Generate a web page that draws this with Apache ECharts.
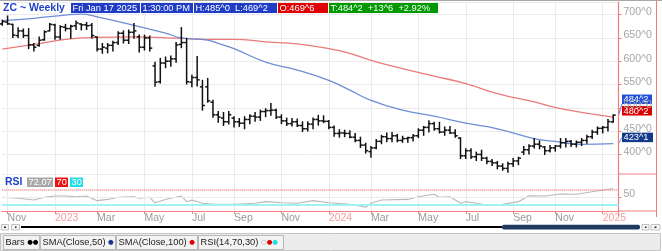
<!DOCTYPE html>
<html>
<head>
<meta charset="utf-8">
<title>ZC Weekly</title>
<script src="https://cdn.jsdelivr.net/npm/echarts@6/dist/echarts.min.js"></script>
<style>
  html, body { margin: 0; padding: 0; background: #fff; }
  #chart { width: 662px; height: 251px; }
</style>
</head>
<body>
<div id="chart"></div>
<script>
// weekly bars dated on Fridays, first bar 2022-10-28
const firstWeek = Date.UTC(2022, 9, 28)
const weekSlots = 118 // 117 bars + the empty slot at the right edge

const opens = [
  680, 684, 679, 655, 665, 655, 635, 634, 646, 665,
  678, 652, 673, 670, 676, 680, 678, 677, 652, 626,
  628, 634, 640, 660, 645, 662, 652, 630, 650, 590,
  556, 596, 600, 605, 636, 640, 555, 565, 545, 545,
  512, 485, 478, 470, 478, 470, 467, 475, 482, 480,
  492, 494, 495, 480, 472, 466, 470, 462, 455, 465,
  475, 472, 471, 458, 445, 446, 445, 437, 430, 420,
  406, 414, 428, 438, 434, 440, 430, 434, 436, 440,
  452, 458, 466, 455, 448, 452, 446, 435, 397, 408,
  395, 400, 392, 385, 382, 375, 370, 380, 386, 405,
  410, 418, 422, 416, 408, 414, 418, 425, 428, 422,
  426, 430, 438, 448, 456, 458, 469.75,
]
const highs = [
  688, 697, 679, 672, 669, 670, 638, 652, 665, 681,
  679, 676, 679, 677, 686, 680, 683, 681, 652, 638,
  638, 643, 663, 665, 667, 681, 656, 656, 654, 598,
  606, 609, 611, 640, 672, 649, 570, 610, 559, 563,
  516, 492, 490, 492, 481, 477, 481, 485, 490, 495,
  498, 509, 497, 485, 478, 477, 476, 470, 470, 478,
  484, 483, 473, 461, 453, 452, 451, 445, 437, 424,
  417, 432, 441, 446, 447, 443, 439, 437, 443, 455,
  460, 472, 469, 469, 459, 460, 453, 436, 412, 412,
  405, 409, 394, 389, 385, 380, 383, 391, 394, 417,
  421, 434, 429, 417, 419, 419, 434, 434, 430, 429,
  434, 441, 452, 459, 460, 475, 485,
]
const lows = [
  677, 679, 651, 651, 651, 627, 622, 632, 645, 665,
  647, 647, 665, 649, 668, 667, 668, 650, 622, 617,
  618, 622, 636, 639, 638, 649, 620, 624, 622, 546,
  553, 586, 589, 598, 629, 551, 545, 547, 495, 512,
  480, 469, 462, 465, 459, 460, 455, 466, 471, 473,
  481, 484, 477, 466, 462, 461, 460, 449, 450, 455,
  463, 468, 455, 439, 437, 438, 436, 427, 415, 403,
  394, 412, 423, 427, 427, 427, 426, 426, 429, 436,
  441, 448, 452, 446, 441, 445, 437, 391, 391, 391,
  387, 387, 380, 376, 369, 366, 362, 374, 378, 400,
  401, 414, 412, 400, 405, 407, 414, 416, 417, 416,
  419, 424, 434, 443, 446, 450, 469.25,
]
const closes = [
  685, 680, 656, 665, 655, 635, 630, 645, 663, 679,
  652, 674, 670, 675, 682, 678, 676, 655, 626, 630,
  634, 640, 660, 645, 662, 665, 630, 650, 628, 555,
  596, 600, 605, 635, 640, 556, 565, 560, 505, 515,
  485, 480, 470, 485, 470, 467, 475, 482, 480, 492,
  494, 495, 480, 472, 466, 470, 462, 455, 465, 475,
  472, 471, 458, 445, 446, 445, 437, 430, 420, 408,
  414, 428, 438, 434, 440, 430, 434, 436, 440, 452,
  458, 466, 455, 448, 452, 446, 440, 397, 408, 395,
  400, 392, 385, 382, 375, 370, 380, 386, 392, 410,
  418, 422, 418, 408, 414, 418, 425, 428, 422, 426,
  430, 438, 448, 456, 458, 470.5, 484.25,
]

// moving averages, read at a few week indexes
const sma50Weeks = [0, 6, 12, 15, 18, 25, 31, 34, 39, 41, 44, 50, 56, 62, 66, 70, 76, 82, 88, 94, 101, 105, 110, 116]
const sma50Values = [687, 692, 699, 701, 695, 677, 660, 650, 645, 638, 627, 598, 581, 559, 538, 516, 495, 482, 467, 455, 434, 428, 421.5, 423.1]
const sma100Weeks = [0, 6, 12, 18, 25, 34, 39, 44, 50, 56, 62, 66, 70, 76, 82, 88, 94, 101, 107, 116]
const sma100Values = [626, 636, 647, 651, 652, 649, 647, 647, 641.5, 637, 627, 617, 602, 584, 568, 552, 530.5, 512.5, 496, 480.2]

const rsiWeeks = [0, 3, 6, 8, 10, 12, 14, 16, 18, 20, 22, 25, 26, 28, 29, 31, 32, 34, 35, 36, 38, 40, 44, 48, 50, 53, 56, 59, 62, 66, 69, 70, 72, 77, 79, 82, 83, 85, 87, 88, 90, 92, 95, 98, 100, 103, 106, 109, 112, 116]
const rsiValues = [48.7, 46, 41.5, 48.7, 52, 52, 50, 52, 39.7, 43, 48.7, 50, 46, 48.7, 34, 43, 46, 52, 37, 41.5, 32.7, 30, 30, 32.7, 37, 34, 32.7, 39.7, 34, 30, 22, 32.7, 41.5, 43, 50, 56.7, 48.7, 50, 32.7, 37, 32.7, 28, 30, 37, 53, 52, 57.5, 56.7, 63.6, 72.07]

const priceTicks = [400, 450, 500, 550, 600, 650, 700]
const monthNames = ['Jan', 'Feb', 'Mar', 'Apr', 'May', 'Jun', 'Jul', 'Aug', 'Sep', 'Oct', 'Nov', 'Dec']

const weeks = []
for (let i = 0; i < weekSlots; i++) {
  weeks.push(new Date(firstWeek + i * 7 * 86400000).toISOString().slice(0, 10))
}

// first week of Jan, Mar, May, Jul, Sep, Nov
function isMarker(i) {
  if (i === 0) return false
  const m = +weeks[i].slice(5, 7)
  return m !== +weeks[i - 1].slice(5, 7) && m % 2 === 1
}

const ui = "'Liberation Sans', Arial, sans-serif"
const axisRed = '#f27c7c'
const gridGray = '#ebebeb'

function eighths(v) {
  return Math.floor(v) + '^' + Math.round((v % 1) * 8)
}

function renderBar(params, api) {
  const i = api.value(0)
  const hi = api.coord([i, api.value(4)])
  const lo = api.coord([i, api.value(3)])
  const op = api.coord([i, api.value(1)])
  const cl = api.coord([i, api.value(2)])
  const style = { stroke: '#111', lineWidth: 1.5 }
  return {
    type: 'group',
    children: [
      { type: 'line', shape: { x1: hi[0], y1: hi[1] - 0.5, x2: lo[0], y2: lo[1] + 0.5 }, style },
      { type: 'line', shape: { x1: op[0] - 2.5, y1: op[1], x2: op[0], y2: op[1] }, style },
      { type: 'line', shape: { x1: cl[0], y1: cl[1], x2: cl[0] + 2.5, y2: cl[1] }, style },
    ],
  }
}

const chart = echarts.init(document.getElementById('chart'), null, { renderer: 'canvas' })

const catAxis = {
  type: 'category',
  data: weeks,
  boundaryGap: false,
  splitLine: { show: true, interval: isMarker, lineStyle: { color: gridGray, width: 1 } },
}

const sideLabel = {
  margin: 5,
  verticalAlign: 'bottom',
  lineHeight: 5,
  fontFamily: ui,
  fontSize: 10.5,
  color: '#a6a6a6',
}

chart.setOption({
  animation: false,
  backgroundColor: '#fff',
  grid: [
    { left: 2.3, right: 43.5, top: 2, height: 172, outerBoundsMode: 'none' },
    { left: 2.3, right: 43.5, top: 174, height: 37, outerBoundsMode: 'none' },
  ],
  xAxis: [
    {
      ...catAxis,
      gridIndex: 0,
      axisLine: { show: false },
      axisTick: { show: false },
      axisLabel: { show: false },
    },
    {
      ...catAxis,
      gridIndex: 1,
      axisLine: { show: true, lineStyle: { color: axisRed, width: 1.2 } },
      axisTick: { show: true, interval: isMarker, alignWithLabel: true, length: 3, lineStyle: { color: axisRed } },
      axisLabel: {
        show: true,
        interval: isMarker,
        align: 'left',
        margin: 2,
        fontFamily: ui,
        fontSize: 10.5,
        color: '#9a9a9a',
        formatter: (v) => {
          const m = +v.slice(5, 7)
          return m === 1 ? '{y|' + v.slice(0, 4) + '}' : monthNames[m - 1]
        },
        rich: { y: { color: '#f3a0a0', fontFamily: ui, fontSize: 10.5 } },
      },
    },
  ],
  yAxis: [
    {
      type: 'value',
      gridIndex: 0,
      position: 'right',
      min: 358,
      max: 727,
      splitNumber: 7,
      axisLine: { show: true, lineStyle: { color: axisRed, width: 1.2 } },
      axisTick: { show: true, length: 3, lineStyle: { color: axisRed } },
      axisLabel: {
        ...sideLabel,
        showMinLabel: false,
        showMaxLabel: false,
        formatter: (v) => (priceTicks.includes(v) ? v + '^0' : ''),
      },
      splitLine: { show: true, lineStyle: { color: gridGray, width: 1 } },
    },
    {
      type: 'value',
      gridIndex: 1,
      position: 'right',
      min: 12,
      max: 111,
      axisLine: { show: true, lineStyle: { color: axisRed, width: 1.2 } },
      axisTick: { show: true, length: 3, customValues: [50], lineStyle: { color: axisRed } },
      axisLabel: { ...sideLabel, customValues: [50] },
      splitLine: { show: false },
    },
  ],
  series: [
    {
      name: 'SMA(Close,100)',
      type: 'line',
      xAxisIndex: 0,
      yAxisIndex: 0,
      smooth: true,
      showSymbol: false,
      data: sma100Weeks.map((w, i) => [w, sma100Values[i]]),
      lineStyle: { color: '#ec7a7a', width: 1.3 },
      z: 2,
    },
    {
      name: 'SMA(Close,50)',
      type: 'line',
      xAxisIndex: 0,
      yAxisIndex: 0,
      smooth: true,
      showSymbol: false,
      data: sma50Weeks.map((w, i) => [w, sma50Values[i]]),
      lineStyle: { color: '#6d8ed6', width: 1.3 },
      z: 2,
    },
    {
      name: 'Bars',
      type: 'custom',
      xAxisIndex: 0,
      yAxisIndex: 0,
      renderItem: renderBar,
      encode: { x: 0, y: [1, 2, 3, 4] },
      data: opens.map((o, i) => [i, o, closes[i], lows[i], highs[i]]),
      z: 3,
    },
    {
      name: 'RSI(14,70,30)',
      type: 'line',
      xAxisIndex: 1,
      yAxisIndex: 1,
      showSymbol: false,
      data: rsiWeeks.map((w, i) => [w, rsiValues[i]]),
      lineStyle: { color: '#b8b8b8', width: 1.1 },
      markLine: {
        silent: true,
        symbol: 'none',
        label: { show: false },
        data: [
          { yAxis: 50, lineStyle: { color: '#ececec', width: 1, type: 'solid' } },
          { yAxis: 70, lineStyle: { color: '#f08a8a', width: 1.6, type: [1, 1] } },
          { yAxis: 30, lineStyle: { color: '#9ff2f6', width: 2, type: 'solid' } },
        ],
      },
      z: 2,
    },
  ],
})

// labels on the price axis, placed just above their values
const last = closes.length - 1
const yOf = (v) => chart.convertToPixel({ gridIndex: 0 }, [last, v])[1]
const sma100Last = sma100Values[sma100Values.length - 1]
const sma50Last = sma50Values[sma50Values.length - 1]
const tagH = 9.5
const tagFont = `9.3px ${ui}`

function tag(x, y, w, h, bg, text, fg) {
  return [
    { type: 'rect', shape: { x, y, width: w, height: h }, style: { fill: bg } },
    {
      type: 'text',
      x: x + 1.5,
      y: y + h / 2 + 0.5,
      style: { text, fill: fg || '#fff', font: tagFont, verticalAlign: 'middle' },
    },
  ]
}

function link(x1, y1, x2, y2, color) {
  return { type: 'line', shape: { x1, y1, x2, y2 }, style: { stroke: color, lineWidth: 1 } }
}

function frameLine(x1, y1, x2, y2, color) {
  return { type: 'line', silent: true, shape: { x1, y1, x2, y2 }, style: { stroke: color, lineWidth: 1 } }
}

const t100 = yOf(sma100Last) - 1.5 - tagH
const tLast = t100 - 2 - tagH
const t50 = yOf(sma50Last) - 1.5 - tagH

const legendTabs = [
  { x: 3, w: 36, text: 'Bars {k|●●}' },
  { x: 40, w: 75, text: 'SMA(Close,50) {b|●}' },
  { x: 116, w: 81, text: 'SMA(Close,100) {r|●}' },
  { x: 198, w: 85, text: 'RSI(14,70,30) {g|○}{r|●}{c|●}' },
]
const dotFont = { fontFamily: 'DejaVu Sans', fontSize: 6.5 }

const graphic = [
  frameLine(0, 0.5, 662, 0.5, '#a8a8a8'),
  frameLine(656.5, 1, 656.5, 217, axisRed),
  frameLine(618.5, 211, 618.5, 217, axisRed),
  frameLine(618.5, 174, 656.5, 174, axisRed),
  frameLine(618.5, 211, 656.5, 211, axisRed),

  // header
  { type: 'text', x: 3, y: 8, style: { text: 'ZC ~ Weekly', fill: '#1f3fcc', font: `bold 10.5px ${ui}`, verticalAlign: 'middle' } },
  ...tag(71, 3, 69, 10, '#1f3cc6', 'Fri Jan 17 2025'),
  ...tag(141, 3, 52, 10, '#1f3cc6', '1:30:00 PM'),
  ...tag(194, 3, 83, 10, '#1f3cc6', 'H:485^0  L:469^2'),
  ...tag(278, 3, 50, 10, '#e00000', 'O:469^6'),
  ...tag(329, 3, 109, 10, '#009a00', 'T:484^2  +13^6  +2.92%'),

  // RSI header
  { type: 'text', x: 5, y: 182, style: { text: 'RSI', fill: '#1f3fcc', font: `bold 10.5px ${ui}`, verticalAlign: 'middle' } },
  ...tag(27, 177.5, 26, 9.5, '#a8a8a8', rsiValues[rsiValues.length - 1].toFixed(2)),
  ...tag(55, 177.5, 13, 9.5, '#ee1111', '70'),
  ...tag(70, 177.5, 13, 9.5, '#22dde8', '30'),

  // value tags on the right axis
  link(618.5, yOf(closes[last]), 622, tLast + tagH, '#4a70e0'),
  link(618.5, yOf(sma50Last), 622, t50 + tagH / 2, '#6d8ed6'),
  ...tag(622, tLast, 30, tagH, '#1f4fd8', eighths(closes[last])),
  ...tag(622, t100, 30, tagH, '#d90000', eighths(sma100Last)),
  ...tag(622, t50, 31, tagH, '#163a8a', eighths(sma50Last)),

  // scroll bar
  { type: 'rect', shape: { x: 1.5, y: 224.5, width: 7, height: 5.5 }, style: { fill: '#f6f6f6', stroke: '#b4b4b4', lineWidth: 0.8 } },
  { type: 'rect', shape: { x: 11.5, y: 224.5, width: 8, height: 5.5 }, style: { fill: '#f6f6f6', stroke: '#b4b4b4', lineWidth: 0.8 } },
  { type: 'rect', shape: { x: 4, y: 226.5, width: 2, height: 1.5 }, style: { fill: '#222' } },
  { type: 'rect', shape: { x: 15, y: 226.5, width: 1.5, height: 1.5 }, style: { fill: '#222' } },
  { type: 'line', shape: { x1: 21, y1: 227, x2: 502, y2: 227 }, style: { stroke: '#000', lineWidth: 2 } },
  { type: 'rect', shape: { x: 502, y: 224.7, width: 138, height: 4.8, r: 2 }, style: { fill: '#1f3a60' } },
  { type: 'rect', shape: { x: 642, y: 224.5, width: 7, height: 5.5 }, style: { fill: '#f6f6f6', stroke: '#b4b4b4', lineWidth: 0.8 } },
  { type: 'rect', shape: { x: 651, y: 224.5, width: 9, height: 5.5 }, style: { fill: '#f6f6f6', stroke: '#b4b4b4', lineWidth: 0.8 } },
  { type: 'rect', shape: { x: 645, y: 226.5, width: 1.5, height: 1.5 }, style: { fill: '#222' } },
  { type: 'rect', shape: { x: 654.5, y: 226.5, width: 2, height: 1.5 }, style: { fill: '#222' } },

  // legend bar
  { type: 'rect', shape: { x: 0.5, y: 233.5, width: 660, height: 17 }, style: { fill: '#ececec', stroke: '#c4c4c4', lineWidth: 1 } },
  ...legendTabs.flatMap((t) => [
    { type: 'rect', shape: { x: t.x + 0.5, y: 235.5, width: t.w, height: 14 }, style: { fill: '#f3f3f3', stroke: '#b8b8b8', lineWidth: 1 } },
    {
      type: 'text',
      x: t.x + 2.5,
      y: 242.5,
      style: {
        text: t.text,
        fill: '#1a1a1a',
        font: `9.3px ${ui}`,
        verticalAlign: 'middle',
        rich: {
          k: { ...dotFont, fill: '#000' },
          b: { ...dotFont, fill: '#16348a' },
          r: { ...dotFont, fill: '#e00000' },
          g: { ...dotFont, fill: '#999' },
          c: { ...dotFont, fill: '#22dde8' },
        },
      },
    },
  ]),
]

chart.setOption({ graphic })
</script>
</body>
</html>
